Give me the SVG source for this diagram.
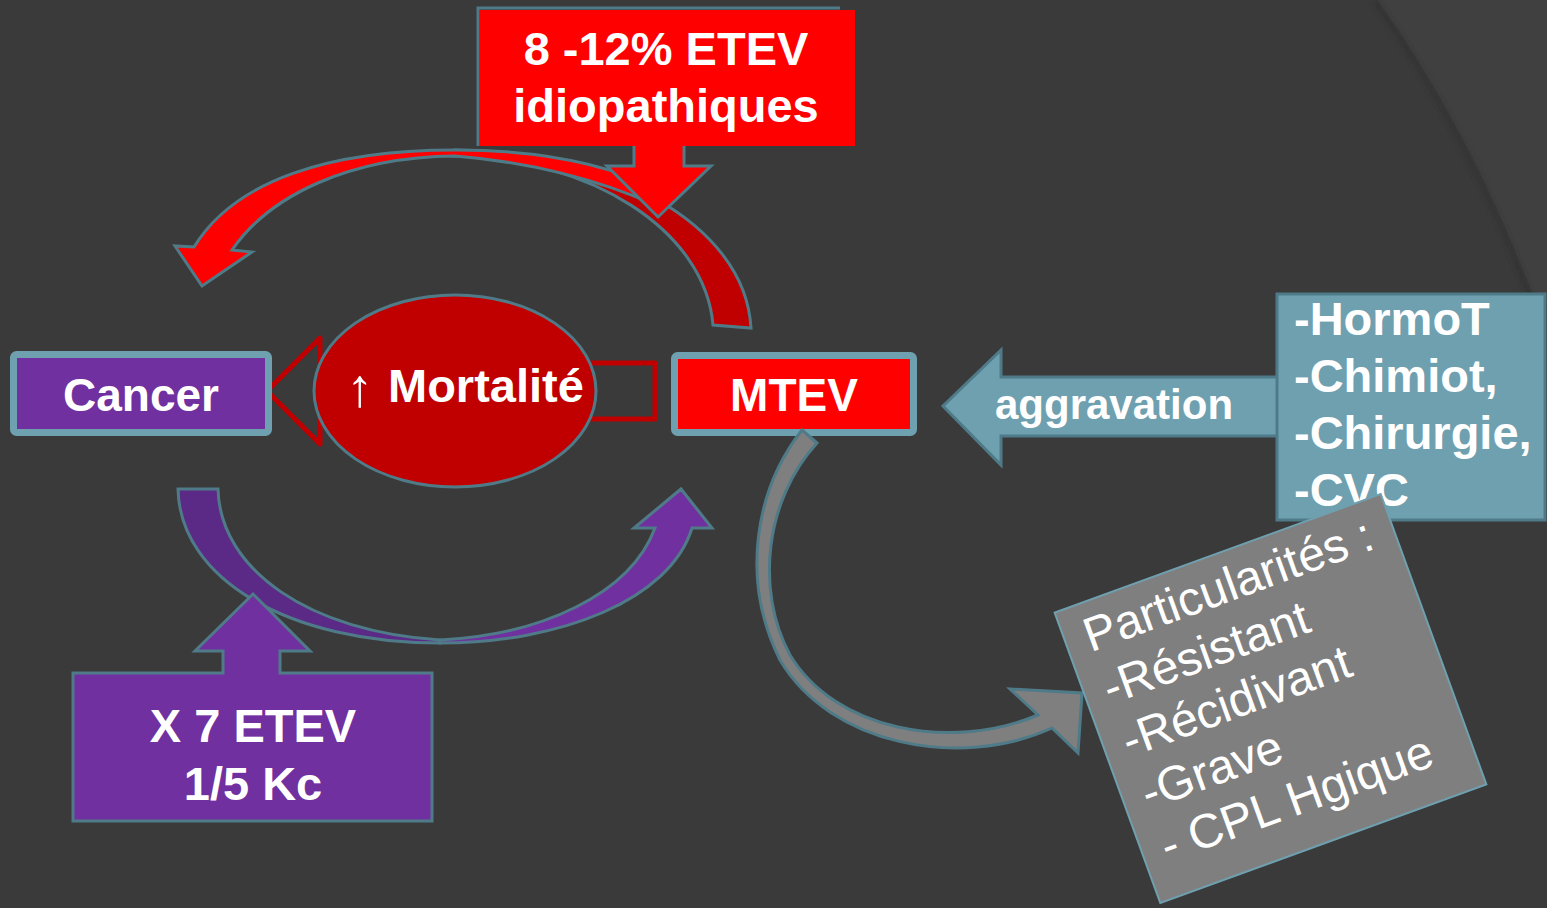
<svg xmlns="http://www.w3.org/2000/svg" width="1547" height="908" viewBox="0 0 1547 908">
  <defs>
    <style>
      .t { font-family: "Liberation Sans", Arial, sans-serif; fill: #ffffff; }
      .b { font-weight: bold; }
      .edge { stroke: #4f7b89; stroke-width: 3; stroke-linejoin: miter; }
    </style>
    <filter id="soft" x="-10%" y="-10%" width="120%" height="120%">
      <feGaussianBlur stdDeviation="2.5"/>
    </filter>
  </defs>

  <!-- background -->
  <rect width="1547" height="908" fill="#3a3a3a"/>
  <path d="M1377,0 Q1470,130 1535,300 L1547,300 V0 Z" fill="#404040"/>
  <path d="M1374,0 Q1467,130 1531,300" fill="none" stroke="#303030" stroke-width="4" filter="url(#soft)"/>

  <!-- connectors -->
  <g id="connectors">
    <!-- upper curved arrow: MTEV back to Cancer -->
    <path class="edge" fill="#c00000" d="M455,150 C600,150 745,220 751,328 L713,325 C705,230 590,158 455,156 Z"/>
    <path class="edge" fill="#ff0000" d="M194,247 C235,180 330,150 455,150 C530,150 600,160 660,190 L655,205 C600,180 530,162 455,156 C350,157 270,195 232,250 L252,252 L202,286 L175,246 Z"/>

    <!-- lower curved arrow: Cancer to MTEV -->
    <path class="edge" fill="#5b2a86" d="M178,489 L218,489 C220,570 310,632 440,640 L440,643 C290,643 180,580 178,489 Z"/>
    <path class="edge" fill="#7030a0" d="M440,643 C560,643 670,600 692,528 L712,528 L681,489 L634,528 L655,528 C630,595 540,635 440,640 Z"/>

    <!-- outlined arrow behind the mortality ellipse -->
    <path d="M655,363 L320,363 L320,338 L267,391 L320,444 L320,419 L655,419 Z" fill="none" stroke="#c00000" stroke-width="5" stroke-linejoin="round"/>

    <!-- aggravation arrow -->
    <path class="edge" fill="#6fa0b0" d="M1278,377 H1001 V350 L943,406 L1001,465 V436 H1278 Z"/>
  </g>

  <!-- Cancer -->
  <g id="cancer">
    <rect x="13.5" y="354.5" width="255" height="78" rx="3" fill="#7030a0" stroke="#6fa0b0" stroke-width="7"/>
    <text class="t b" x="141" y="411" font-size="46" text-anchor="middle">Cancer</text>
  </g>

  <!-- Mortality -->
  <g id="mortalite">
    <ellipse cx="455" cy="391" rx="141" ry="96" fill="#c00000" stroke="#4f7b89" stroke-width="3"/>
    <text class="t" x="360" y="406" font-size="54" text-anchor="middle">↑</text>
    <text class="t b" x="388" y="402" font-size="47">Mortalité</text>
  </g>

  <!-- MTEV -->
  <g id="mtev">
    <rect x="674.5" y="355.5" width="239" height="77" rx="3" fill="#ff0000" stroke="#6fa0b0" stroke-width="7"/>
    <text class="t b" x="794" y="411" font-size="46" text-anchor="middle">MTEV</text>
  </g>

  <!-- MTEV towards particularities -->
  <g id="mtev-curve">
    <path class="edge" fill="#7f7f7f" d="M802,430 C755,490 740,580 780,660 C830,745 960,770 1052,728 L1078,753 L1082,693 L1010,689 L1038,715 C950,752 835,730 790,655 C755,590 765,500 817,443 Z"/>
  </g>

  <!-- idiopathic VTE callout -->
  <g id="idiopathiques">
    <path d="M478,146 V8 H840" fill="none" stroke="#4f7b89" stroke-width="3"/>
    <path class="edge" fill="#ff0000" d="M634,145 V166 H607 L658,217 L711,166 H684 V145"/>
    <rect x="480" y="10" width="375" height="136" fill="#ff0000"/>
    <text class="t b" x="666" y="65" font-size="47" text-anchor="middle">8 -12% ETEV</text>
    <text class="t b" x="666" y="122" font-size="47" text-anchor="middle">idiopathiques</text>
  </g>

  <!-- x7 callout -->
  <g id="x7">
    <path class="edge" fill="#7030a0" d="M73,673 H223 V651 H195 L253,594 L310,651 H280 V673 H432 V821 H73 Z"/>
    <text class="t b" x="253" y="742" font-size="47" text-anchor="middle">X 7 ETEV</text>
    <text class="t b" x="253" y="800" font-size="47" text-anchor="middle">1/5 Kc</text>
  </g>

  <!-- aggravation factors -->
  <g id="facteurs">
    <rect class="edge" x="1277" y="294" width="268" height="226" fill="#6fa0b0"/>
    <text class="t b" x="1294" y="335" font-size="47">-HormoT</text>
    <text class="t b" x="1294" y="392" font-size="47">-Chimiot,</text>
    <text class="t b" x="1294" y="449" font-size="47">-Chirurgie,</text>
    <text class="t b" x="1294" y="506" font-size="47">-CVC</text>
  </g>
  <g id="aggravation-label">
    <text class="t b" x="995" y="419" font-size="42">aggravation</text>
  </g>

  <!-- particularities -->
  <g id="particularites" transform="translate(1270.5,698.5) rotate(-20)">
    <rect x="-173.5" y="-154.5" width="347" height="309" fill="#7f7f7f" stroke="#6fa0b0" stroke-width="2"/>
    <text class="t" font-size="48">
      <tspan x="-153" y="-105">Particularités :</tspan>
      <tspan x="-153" dy="56">-Résistant</tspan>
      <tspan x="-153" dy="56">-Récidivant</tspan>
      <tspan x="-153" dy="56">-Grave</tspan>
      <tspan x="-153" dy="56">- CPL Hgique</tspan>
    </text>
  </g>
</svg>
